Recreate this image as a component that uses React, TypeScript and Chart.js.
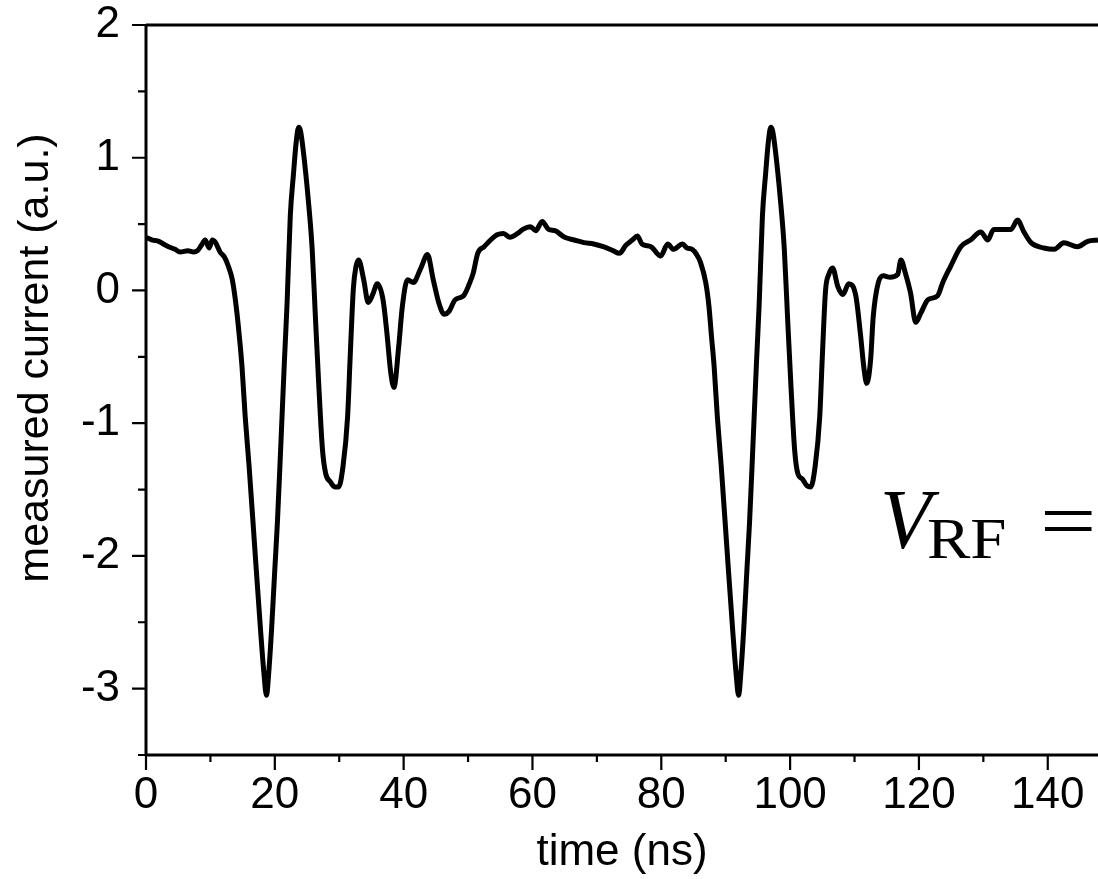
import React, { useEffect, useRef } from "react";
import { Chart, registerables } from "chart.js";

Chart.register(...registerables);

// ---- data ----
const timeNs: number[] = [
  0, 1.0, 2.0, 2.7, 3.5, 4.5, 5.3, 6.5, 7.4, 8.0, 8.6, 9.2, 9.8, 10.3, 10.8, 11.5, 12.2, 12.8, 13.4, 14.0,
  14.5, 14.9, 15.4, 16.0, 16.9, 17.8, 18.3, 18.7, 19.1, 19.5, 20.0, 20.4, 20.9, 21.5, 21.9, 22.4, 22.9, 23.3, 23.7, 24.0,
  24.4, 25.2, 25.8, 26.3, 26.8, 27.4, 27.9, 28.6, 29.3, 29.9, 30.6, 31.3, 31.7, 32.2, 32.6, 33.0, 33.8, 34.5, 35.2, 35.9,
  36.8, 37.4, 38.0, 38.5, 39.2, 39.8, 40.6, 41.5, 42.6, 43.7, 44.6, 45.5, 46.3, 47.0, 48.0, 49.3, 50.2, 50.8, 51.5, 52.5,
  53.5, 54.5, 55.5, 56.5, 57.7, 58.5, 59.7, 60.5, 61.5, 62.5, 63.5, 65.0, 66.5, 68.0, 69.5, 71.0, 72.5, 73.5, 74.5, 75.5,
  76.3, 77.0, 78.4, 79.9, 81.0, 81.9, 83.3, 84.0, 84.8, 85.5, 86.1, 86.9, 87.4, 87.8, 88.2, 88.7, 89.3, 90.2, 91.1, 91.6,
  92.0, 92.4, 92.8, 93.3, 93.7, 94.2, 94.8, 95.2, 95.7, 96.2, 96.6, 97.0, 97.3, 97.7, 98.5, 99.1, 99.6, 100.1, 100.7, 101.2,
  101.9, 102.6, 103.2, 103.9, 104.6, 105.0, 105.5, 106.0, 106.6, 107.4, 108.2, 109.1, 110.2, 110.9, 111.5, 111.9, 112.5, 112.9, 113.7, 114.5,
  115.5, 116.7, 117.2, 117.9, 118.7, 119.5, 120.3, 121.4, 122.9, 123.7, 124.9, 126.5, 128.0, 129.6, 130.7, 131.6, 133.0, 134.3, 135.3, 136.3,
  137.4, 139.4, 141.0, 142.5, 144.6, 146.2, 147.8,
];

const current: number[] = [
  0.40, 0.38, 0.37, 0.35, 0.33, 0.31, 0.29, 0.30, 0.29, 0.30, 0.34, 0.38, 0.32, 0.38, 0.36, 0.29, 0.25, 0.18, 0.08, -0.12,
  -0.35, -0.57, -0.95, -1.32, -1.95, -2.57, -2.88, -3.05, -2.85, -2.55, -2.1, -1.75, -1.2, -0.52, -0.1, 0.56, 0.88, 1.11, 1.23, 1.2,
  1.06, 0.68, 0.31, -0.2, -0.69, -1.2, -1.38, -1.44, -1.48, -1.48, -1.32, -0.95, -0.5, 0.02, 0.18, 0.23, 0.08, -0.09, -0.03, 0.05,
  -0.07, -0.32, -0.62, -0.73, -0.44, -0.12, 0.08, 0.06, 0.16, 0.27, 0.08, -0.1, -0.18, -0.16, -0.07, -0.04, 0.05, 0.13, 0.28, 0.33,
  0.38, 0.42, 0.43, 0.40, 0.43, 0.46, 0.48, 0.45, 0.52, 0.46, 0.45, 0.40, 0.38, 0.36, 0.35, 0.33, 0.30, 0.28, 0.34, 0.38,
  0.41, 0.35, 0.33, 0.26, 0.35, 0.31, 0.35, 0.32, 0.31, 0.27, 0.21, 0.06, -0.12, -0.35, -0.57, -0.95, -1.32, -1.95, -2.57, -2.88,
  -3.05, -2.85, -2.55, -2.1, -1.75, -1.2, -0.52, -0.1, 0.56, 0.88, 1.11, 1.23, 1.2, 1.06, 0.68, 0.31, -0.2, -0.69, -1.2, -1.38,
  -1.42, -1.47, -1.48, -1.32, -0.95, -0.5, 0.0, 0.12, 0.17, 0.03, -0.03, 0.05, -0.04, -0.32, -0.6, -0.7, -0.52, -0.2, 0.06, 0.11,
  0.10, 0.12, 0.23, 0.13, -0.02, -0.24, -0.17, -0.07, -0.04, 0.06, 0.18, 0.33, 0.38, 0.44, 0.38, 0.46, 0.46, 0.46, 0.53, 0.44,
  0.36, 0.32, 0.31, 0.36, 0.33, 0.37, 0.38,
];

const xMajorTicks = [0, 20, 40, 60, 80, 100, 120, 140];
const xMinorTicks = [10, 30, 50, 70, 90, 110, 130];
const yMajorTicks = [-3, -2, -1, 0, 1, 2];
const yMinorTicks = [-3.5, -2.5, -1.5, -0.5, 0.5, 1.5];

const X_MIN = 0;
const X_MAX = 147.8;
const Y_MIN = -3.5;
const Y_MAX = 2;

const xTitle = "time (ns)";
const yTitle = "measured current (a.u.)";

const SANS = "'Liberation Sans', Arial, Helvetica, sans-serif";
const SERIF = "'Liberation Serif', 'Times New Roman', serif";

const decorPlugin = {
  id: "decor",
  afterDraw(chart: any) {
    const { ctx, chartArea, scales } = chart;
    const { left, right, top, bottom } = chartArea;
    const xs = scales.x;
    const ys = scales.y;
    ctx.save();
    ctx.strokeStyle = "#000";
    ctx.lineCap = "butt";

    // axis lines + top frame
    ctx.lineWidth = 3;
    ctx.beginPath();
    ctx.moveTo(left, top);
    ctx.lineTo(left, bottom);
    ctx.moveTo(left, bottom);
    ctx.lineTo(right, bottom);
    ctx.moveTo(left, top);
    ctx.lineTo(right, top);
    ctx.stroke();

    // ticks
    ctx.lineWidth = 2.2;
    ctx.beginPath();
    xMajorTicks.forEach((v) => {
      const p = xs.getPixelForValue(v);
      ctx.moveTo(p, bottom);
      ctx.lineTo(p, bottom + 15);
    });
    xMinorTicks.forEach((v) => {
      const p = xs.getPixelForValue(v);
      ctx.moveTo(p, bottom);
      ctx.lineTo(p, bottom + 7);
    });
    yMajorTicks.forEach((v) => {
      const p = ys.getPixelForValue(v);
      ctx.moveTo(left, p);
      ctx.lineTo(left - 14, p);
    });
    yMinorTicks.forEach((v) => {
      const p = ys.getPixelForValue(v);
      ctx.moveTo(left, p);
      ctx.lineTo(left - 8, p);
    });
    ctx.stroke();

    // y-axis title
    ctx.fillStyle = "#000";
    ctx.save();
    ctx.translate(36, 358);
    ctx.rotate(-Math.PI / 2);
    ctx.font = `43px ${SANS}`;
    ctx.textAlign = "center";
    ctx.textBaseline = "middle";
    ctx.fillText(yTitle, 0, 0);
    ctx.restore();

    // V_RF = annotation
    ctx.textAlign = "left";
    ctx.textBaseline = "alphabetic";
    ctx.font = `italic 84px ${SERIF}`;
    ctx.fillText("V", 880, 548);
    ctx.save();
    ctx.translate(927, 558);
    ctx.scale(1.12, 1);
    ctx.font = `58px ${SERIF}`;
    ctx.fillText("RF", 0, 0);
    ctx.restore();
    ctx.save();
    ctx.translate(1040, 548);
    ctx.scale(1.25, 1);
    ctx.font = `80px ${SERIF}`;
    ctx.fillText("=", 0, 0);
    ctx.restore();

    ctx.restore();
  },
};

export default function App() {
  const canvasRef = useRef<HTMLCanvasElement | null>(null);

  useEffect(() => {
    document.body.style.margin = "0";
    const canvas = canvasRef.current;
    if (!canvas) return;
    const points = timeNs.map((t, i) => ({ x: t, y: current[i] }));
    const chart = new Chart(canvas, {
      type: "line",
      data: {
        datasets: [
          {
            data: points,
            borderColor: "#000",
            borderWidth: 5,
            pointRadius: 0,
            fill: false,
            cubicInterpolationMode: "monotone",
          },
        ],
      },
      options: {
        responsive: false,
        animation: false,
        layout: { padding: { top: 25, right: 0, bottom: 0, left: 0 } },
        plugins: {
          legend: { display: false },
          tooltip: { enabled: false },
          title: { display: false },
        },
        scales: {
          x: {
            type: "linear",
            min: X_MIN,
            max: X_MAX,
            afterBuildTicks: (s: any) => {
              s.ticks = xMajorTicks.map((v) => ({ value: v }));
            },
            afterFit: (s: any) => {
              s.height = 124;
              s.paddingLeft = 0;
              s.paddingRight = 0;
            },
            grid: { display: false, drawTicks: false },
            border: { display: false },
            ticks: {
              color: "#000",
              font: { family: SANS, size: 44 },
              padding: 14,
              maxRotation: 0,
              autoSkip: false,
              callback: (v: any) => String(v),
            },
            title: {
              display: true,
              text: xTitle,
              color: "#000",
              font: { family: SANS, size: 44 },
              padding: { top: 0, bottom: 0 },
            },
          },
          y: {
            type: "linear",
            min: Y_MIN,
            max: Y_MAX,
            afterBuildTicks: (s: any) => {
              s.ticks = yMajorTicks.map((v) => ({ value: v }));
            },
            afterFit: (s: any) => {
              s.width = 146;
              s.paddingTop = 0;
              s.paddingBottom = 0;
            },
            grid: { display: false, drawTicks: false },
            border: { display: false },
            ticks: {
              color: "#000",
              font: { family: SANS, size: 44 },
              padding: 26,
              autoSkip: false,
              callback: (v: any) => String(v),
            },
          },
        },
      },
      plugins: [decorPlugin],
    });
    return () => chart.destroy();
  }, []);

  return (
    <div style={{ width: 1098, height: 879, background: "#fff" }}>
      <canvas ref={canvasRef} width={1098} height={879} style={{ display: "block" }} />
    </div>
  );
}
